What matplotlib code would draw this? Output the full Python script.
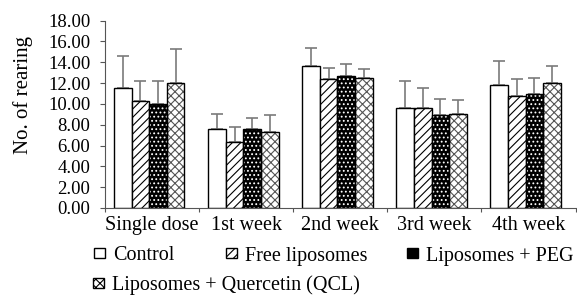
import numpy as np
import matplotlib
matplotlib.use("Agg")
import matplotlib.pyplot as plt
from matplotlib.patches import Patch

plt.rcParams['font.family'] = ['Liberation Serif', 'DejaVu Serif']
plt.rcParams['hatch.linewidth'] = 0.8

categories = ['Single dose', '1st week', '2nd week', '3rd week', '4th week']
series = ['Control', 'Free liposomes', 'Liposomes + PEG', 'Liposomes + Quercetin (QCL)']

control = [11.5, 7.55, 13.6, 9.57, 11.77]
free_lipo = [10.25, 6.3, 12.35, 9.57, 10.8]
lipo_peg = [9.95, 7.55, 12.65, 8.9, 10.9]
lipo_qcl = [11.97, 7.25, 12.45, 9.0, 11.97]

control_err = [3.05, 1.5, 1.73, 2.65, 2.37]
free_err = [1.9, 1.47, 1.12, 1.98, 1.6]
peg_err = [2.25, 1.12, 1.2, 1.6, 1.6]
qcl_err = [3.33, 1.7, 0.92, 1.4, 1.66]

values = [control, free_lipo, lipo_peg, lipo_qcl]
errors = [control_err, free_err, peg_err, qcl_err]

fig = plt.figure(figsize=(5.77, 2.95), dpi=100)
ax = fig.add_axes([105 / 577, 1 - 208 / 295, 470.5 / 577, 187.5 / 295])

x = np.arange(len(categories)) + 0.5
w = 0.187
offsets = [-1.5, -0.5, 0.5, 1.5]
hatches = [None, '////', '....', 'xxxx']

handles = []
for i in range(4):
    pos = x + offsets[i] * w - 0.03
    ax.errorbar(pos, values[i], yerr=[np.zeros(5), errors[i]], fmt='none',
                ecolor='#7a7a7a', elinewidth=1.2, capsize=4, capthick=1.2, zorder=1)
    if i == 2:
        # black bars with white dots
        ax.bar(pos, values[i], w, color='black', edgecolor='white', hatch=hatches[i],
               linewidth=0, zorder=2)
        ax.bar(pos, values[i], w, fill=False, edgecolor='black', linewidth=1, zorder=3)
        handles.append(Patch(facecolor='black', edgecolor='black'))
    elif i == 3:
        ax.bar(pos, values[i], w, color='white', edgecolor='#555555', hatch=hatches[i],
               linewidth=0, zorder=2)
        ax.bar(pos, values[i], w, fill=False, edgecolor='black', linewidth=1, zorder=3)
        handles.append(Patch(facecolor='white', edgecolor='black', hatch='xxxx'))
    else:
        ax.bar(pos, values[i], w, color='white', edgecolor='black',
               hatch=hatches[i], linewidth=1, zorder=2)
        handles.append(Patch(facecolor='white', edgecolor='black', hatch=hatches[i]))

ax.set_xlim(0, 5)
ax.set_ylim(0, 18)
ax.set_yticks(np.arange(0, 18.1, 2))
ax.set_yticklabels(['%.2f' % v for v in np.arange(0, 18.1, 2)], fontsize=13.5)
ax.set_xticks(np.arange(0, 6))
ax.set_xticklabels([])
ax.set_xticks(x, minor=True)
ax.set_xticklabels(categories, minor=True, fontsize=14.5)
ax.tick_params(axis='x', which='minor', length=0, pad=6)
ax.tick_params(axis='x', which='major', length=3, color='#555555')
ax.tick_params(axis='y', length=3.5, pad=7, color='#555555')
ax.spines['top'].set_visible(False)
ax.spines['right'].set_visible(False)
ax.spines['left'].set_color('#555555')
ax.spines['bottom'].set_color('#555555')
ax.set_ylabel('No. of rearing', fontsize=15)
ax.yaxis.set_label_coords(-0.152, 0.6)

# legend entries placed like the original
legend_pos = [(94, 256), (226, 256), (407, 256), (93, 285)]
for h, label, (lx, ly) in zip(handles, series, legend_pos):
    fig.legend([h], [label], loc='center left', bbox_to_anchor=(lx / 577, 1 - ly / 295),
               frameon=False, fontsize=14.5, handlelength=0.55, handleheight=0.4,
               handletextpad=0.4, borderpad=0, borderaxespad=0)

fig.savefig('out.png', dpi=100)
